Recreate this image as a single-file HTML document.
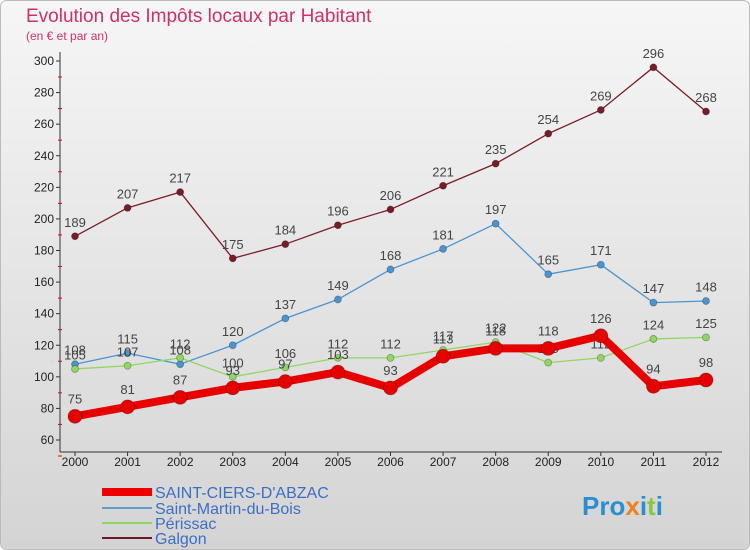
<!DOCTYPE html>
<html><head><meta charset="utf-8"><style>
body{margin:0;background:#fff}
svg{display:block;font-family:"Liberation Sans","DejaVu Sans",sans-serif}
</style></head><body>
<svg width="750" height="550" viewBox="0 0 750 550">
<defs>
<linearGradient id="bg" x1="0" y1="0" x2="0" y2="1"><stop offset="0" stop-color="#f6f6f6"/><stop offset="1" stop-color="#d4d4d4"/></linearGradient>
</defs>
<rect x="0.5" y="0.5" width="749" height="549" rx="6" fill="url(#bg)" stroke="#bbb"/>
<text x="26" y="22" font-size="19" fill="#d0306a">Evolution des Impôts locaux par Habitant</text>
<text x="26" y="40" font-size="12" fill="#d0306a">(en € et par an)</text>
<g id="axes"></g>
<g id="series"></g>
<g id="legend">
<line x1="102" y1="492" x2="152" y2="492" stroke="#e00" stroke-width="8"/>
<text x="155" y="498" font-size="16" fill="#3a6fc4">SAINT-CIERS-D'ABZAC</text>
<line x1="102" y1="508" x2="152" y2="508" stroke="#5a9fd4" stroke-width="2"/>
<text x="155" y="514" font-size="16" fill="#3a6fc4">Saint-Martin-du-Bois</text>
<line x1="102" y1="523" x2="152" y2="523" stroke="#8fd860" stroke-width="2"/>
<text x="155" y="529" font-size="16" fill="#3a6fc4">Périssac</text>
<line x1="102" y1="538" x2="152" y2="538" stroke="#6b1a22" stroke-width="2"/>
<text x="155" y="544" font-size="16" fill="#3a6fc4">Galgon</text>
</g>
<text x="582" y="515" font-size="26" font-weight="bold" fill="#2a8fd0">Pro<tspan fill="#f08020">x</tspan><tspan fill="#2a8fd0">i</tspan><tspan fill="#8cc63f">t</tspan><tspan fill="#2a8fd0">i</tspan></text>
</svg>
<script>
const years=[2000,2001,2002,2003,2004,2005,2006,2007,2008,2009,2010,2011,2012];
const galgon=[189,207,217,175,184,196,206,221,235,254,269,296,268];
const saintMartin=[108,115,108,120,137,149,168,181,197,165,171,147,148];
const perissac=[105,107,112,100,106,112,112,117,122,109,112,124,125];
const saintCiers=[75,81,87,93,97,103,93,113,118,118,126,94,98];
const yTicks=[60,80,100,120,140,160,180,200,220,240,260,280,300];
const NS="http://www.w3.org/2000/svg";
const xs=i=>75+i*(706-75)/12;
const ys=v=>440-(v-60)*(379/240);
function mk(tag,attrs,parent){const e=document.createElementNS(NS,tag);for(const k in attrs)e.setAttribute(k,attrs[k]);parent.appendChild(e);return e;}
const ax=document.getElementById('axes');
const ser=document.getElementById('series');
let yl=mk('line',{x1:60,y1:52,x2:60,y2:452,stroke:'#333'},ax);


let xl=mk('line',{x1:60,y1:452,x2:722,y2:452,stroke:'#333'},ax);


yTicks.forEach(v=>{
  const y=ys(v);
  mk('line',{x1:56,y1:y,x2:60,y2:y,stroke:'#333'},ax);
  mk('line',{x1:58,y1:y+16,x2:62,y2:y+16,stroke:'#e00'},ax);
  const t=mk('text',{x:54,y:y+4,'font-size':12,'text-anchor':'end',fill:'#222'},ax);
  t.textContent=v;
  
  
});
years.forEach((yr,i)=>{
  const x=xs(i);
  mk('line',{x1:x,y1:452,x2:x,y2:456,stroke:'#333'},ax);
  const t=mk('text',{x:x,y:466,'font-size':12,'text-anchor':'middle',fill:'#222'},ax);
  t.textContent=yr;
  
  
});
function draw(data,color,w,r,name){
  const g=mk('g',{},ser);
  
  
  const p=mk('polyline',{points:data.map((v,i)=>xs(i)+','+ys(v)).join(' '),fill:'none',stroke:color,'stroke-width':w,'stroke-linejoin':'round'},g);
  
  
  data.forEach((v,i)=>{
    const c=mk('circle',{cx:xs(i),cy:ys(v),r:r,fill:color,stroke:'rgba(0,0,0,0.3)','stroke-width':0.8},g);
    
    
    const t=mk('text',{x:xs(i),y:ys(v)-r-6,'font-size':13,'text-anchor':'middle',fill:'#444'},g);
    t.textContent=v;
    
    
  });
}
draw(galgon,'#7a1c26',1.3,3.5,'galgon');
draw(saintMartin,'#4a94d0',1.3,3.5,'saint-martin');
draw(perissac,'#8fd860',1.3,3.5,'perissac');
draw(saintCiers,'#e60000',8,7,'saint-ciers');
</script>
</body></html>
